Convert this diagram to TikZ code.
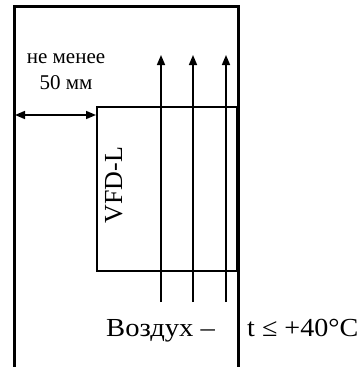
\documentclass[tikz,border=0pt]{standalone}
\usepackage{fontspec}
\setmainfont{Liberation Serif}
\usetikzlibrary{arrows.meta}
\tikzset{
  flow/.style={line width=1.5pt,-{Triangle[length=10pt,width=8pt]}},
  gap/.style={line width=1.5pt,{Triangle[length=10pt,width=8pt]}-{Triangle[length=10pt,width=8pt]}},
  big/.style={font=\fontsize{26}{30}\selectfont,inner sep=0pt},
  small/.style={font=\fontsize{21}{23}\selectfont,inner sep=0pt,anchor=base}
}
\begin{document}
\begin{tikzpicture}[x=1pt,y=-1pt]
\useasboundingbox (0,0) rectangle (358,367);
% cabinet
\draw[line width=3pt] (14,367) -- (14,6) -- (238,6) -- (238,367);
% drive
\node[draw,line width=2pt,minimum width=140pt,minimum height=164pt,inner sep=0pt,anchor=north west] (vfd) at (96,106) {};
\node[big,rotate=90,anchor=base] (vfdlbl) at (122,185) {VFD-L};
% air flow
\foreach \i/\x in {1/161,2/193,3/226}{
  \coordinate (in\i) at (\x,302);
  \coordinate (out\i) at (\x,55);
  \draw[flow] (in\i) -- (out\i);
}
% clearance
\coordinate (wall) at (15,115);
\draw[gap] (wall) -- (vfd.north west |- wall);
\node[small] (dist1) at (66,63) {не менее};
\node[small] (dist2) at (66,89) {50 мм};
\node[big,xscale=1.1,anchor=base west] (air) at (106,336) {Воздух –};
\node[big,xscale=1.08,anchor=base west] (temp) at (247,336) {t ≤ +40°C};
\end{tikzpicture}
\end{document}
